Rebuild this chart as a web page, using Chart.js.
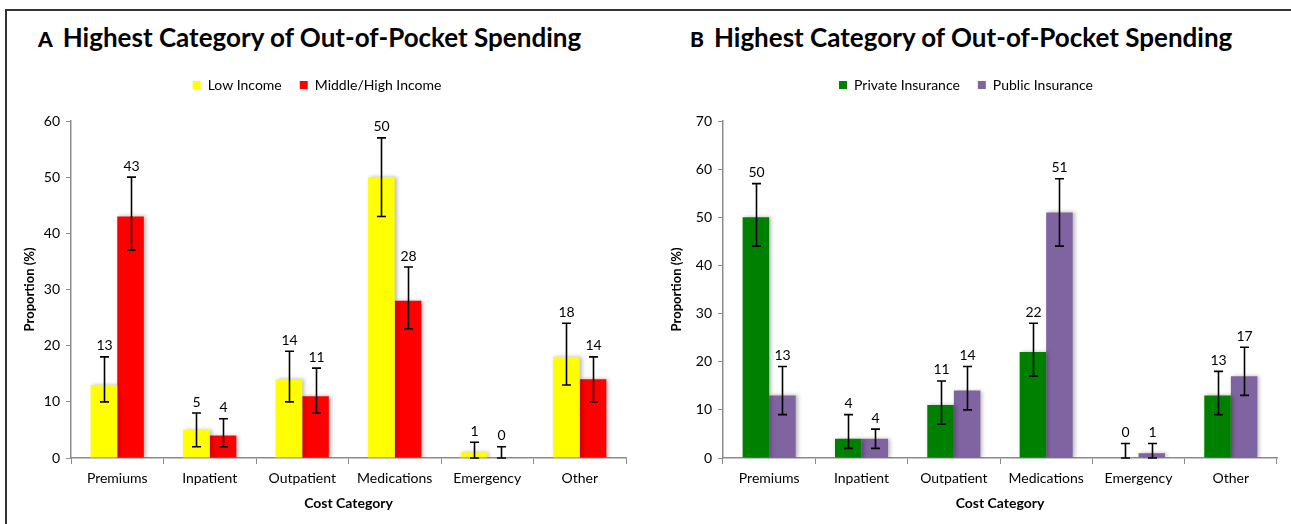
<!DOCTYPE html>
<html>
<head>
<meta charset="utf-8">
<script src="https://cdn.jsdelivr.net/npm/chart.js@4.4.1/dist/chart.umd.min.js"></script>
<style>
  html, body { margin: 0; padding: 0; background: #fff; }
  body { width: 1291px; height: 524px; position: relative; overflow: hidden; font-family: Lato, sans-serif; }
  .frame { position: absolute; left: 5px; top: 9px; width: 1300px; height: 600px;
           border-top: 2px solid #333; border-left: 2px solid #333; }
  .ttl { position: absolute; top: 21px; font-weight: bold; font-size: 26px; color: #000; white-space: nowrap; }
  .ttl b { margin-right: 10px; font-size: 21px; }
  .box { position: absolute; top: 60px; height: 464px; }
</style>
</head>
<body>
<div class="frame"></div>
<div class="ttl" style="left:38px"><b>A</b>Highest Category of Out-of-Pocket Spending</div>
<div class="ttl" style="left:690px"><b>B</b>Highest Category of Out-of-Pocket Spending</div>
<div class="box" style="left:8px;width:637px"><canvas id="chartA"></canvas></div>
<div class="box" style="left:655px;width:636px"><canvas id="chartB"></canvas></div>

<script>
// Dados
var categories = ['Premiums', 'Inpatient', 'Outpatient', 'Medications', 'Emergency', 'Other'];

var lowIncome    = [13, 5, 14, 50, 1, 18]
    , lowIncomeLo  = [10, 2, 10, 43, 0, 13]
    , lowIncomeHi  = [18, 8, 19, 57, 2.8, 24]
    , midIncome    = [43, 4, 11, 28, 0, 14]
    , midIncomeLo  = [37, 2, 8, 23, 0, 10]
    , midIncomeHi  = [50, 7, 16, 34, 2, 18]
    ;

var privateIns   = [50, 4, 11, 22, 0, 13]
    , privateLo    = [44, 2, 7, 17, 0, 9]
    , privateHi    = [57, 9, 16, 28, 3, 18]
    , publicIns    = [13, 4, 14, 51, 1, 17]
    , publicLo     = [9, 2, 10, 44, 0, 13]
    , publicHi     = [19, 6, 19, 58, 3, 23]
    ;

var ticksA = [0, 10, 20, 30, 40, 50, 60]
    , ticksB = [0, 10, 20, 30, 40, 50, 60, 70]
    ;

var FONT = 'Lato';
var AXIS = '#8c8c8c';

// sombra leve nas barras
var shadowPlugin = {
    id: 'barShadow',
    beforeDatasetDraw: function(chart){
        var c = chart.ctx;
        c.save();
        c.shadowColor = 'rgba(0,0,0,0.28)';
        c.shadowBlur = 4;
        c.shadowOffsetX = 2;
        c.shadowOffsetY = 0;
    },
    afterDatasetDraw: function(chart){
        chart.ctx.restore();
    }
};

// barras de erro + rótulos de valor
var errorPlugin = {
    id: 'errorBars',
    afterDatasetsDraw: function(chart){
        var c = chart.ctx, y = chart.scales.y;
        chart.data.datasets.forEach(function(ds, i){
            var meta = chart.getDatasetMeta(i);
            meta.data.forEach(function(bar, j){
                var top = y.getPixelForValue(ds.errHi[j]);
                var bot = y.getPixelForValue(ds.errLo[j]);
                var x = Math.round(bar.x) + 0.5;
                c.save();
                c.strokeStyle = '#000';
                c.lineWidth = 1.6;
                c.beginPath();
                c.moveTo(x, top); c.lineTo(x, bot);
                c.moveTo(x - 4.5, top); c.lineTo(x + 4.5, top);
                c.moveTo(x - 4.5, bot); c.lineTo(x + 4.5, bot);
                c.stroke();
                c.fillStyle = '#000';
                c.font = '14px ' + FONT;
                c.textAlign = 'center';
                c.textBaseline = 'bottom';
                c.fillText(String(ds.data[j]), x, top - 4);
                c.restore();
            });
        });
    }
};

// espaço extra abaixo da legenda
function legendGap(px){
    return {
        id: 'legendGap',
        beforeInit: function(chart){
            var fit = chart.legend.fit;
            chart.legend.fit = function(){
                fit.bind(chart.legend)();
                this.height += px;
            };
        }
    };
}

function makeChart(id, sets, max, ticks, yWidth, padRight){
    return new Chart(document.getElementById(id), {
        type: 'bar',
        data: {
            labels: categories,
            datasets: sets.map(function(s){
                return {
                    label: s.label,
                    data: s.data,
                    errLo: s.lo,
                    errHi: s.hi,
                    backgroundColor: s.color,
                    borderWidth: 0,
                    barPercentage: 1,
                    categoryPercentage: 0.575
                };
            })
        },
        options: {
            responsive: true,
            maintainAspectRatio: false,
            animation: false,
            layout: { padding: { top: 0, right: padRight, bottom: 0, left: 0 } },
            plugins: {
                title: { display: false },
                tooltip: { enabled: false },
                legend: {
                    position: 'top',
                    labels: {
                        boxWidth: 8, boxHeight: 8, padding: 18,
                        color: '#000',
                        font: { family: FONT, size: 14 }
                    }
                }
            },
            scales: {
                x: {
                    grid: { display: true, offset: true, drawOnChartArea: false, tickLength: 6, color: AXIS },
                    border: { color: AXIS, width: 1.5 },
                    ticks: { color: '#000', padding: 6, font: { family: FONT, size: 14 }, maxRotation: 0 },
                    title: { display: true, text: 'Cost Category', color: '#000',
                             font: { family: FONT, size: 14, weight: 'bold' }, padding: { top: 4, bottom: 12 } },
                    afterFit: function(s){ s.height = 66; }
                },
                y: {
                    min: 0, max: max,
                    grid: { display: true, drawOnChartArea: false, tickLength: 5, color: AXIS },
                    border: { color: AXIS, width: 1.5 },
                    afterBuildTicks: function(s){ s.ticks = ticks.map(function(v){ return { value: v }; }); },
                    ticks: { color: '#000', padding: 6, font: { family: FONT, size: 14 } },
                    title: { display: true, text: 'Proportion (%)', color: '#000',
                             font: { family: FONT, size: 13, weight: 'bold' }, padding: { top: 14, bottom: 0 } },
                    afterFit: function(s){ s.width = yWidth; }
                }
            }
        },
        plugins: [shadowPlugin, errorPlugin, legendGap(19)]
    });
}

makeChart('chartA', [
    { label: 'Low Income',         data: lowIncome, lo: lowIncomeLo, hi: lowIncomeHi, color: '#FFFF00' },
    { label: 'Middle/High Income', data: midIncome, lo: midIncomeLo, hi: midIncomeHi, color: '#FF0000' }
], 60, ticksA, 63, 19);

makeChart('chartB', [
    { label: 'Private Insurance', data: privateIns, lo: privateLo, hi: privateHi, color: '#008000' },
    { label: 'Public Insurance',  data: publicIns,  lo: publicLo,  hi: publicHi,  color: '#8064A2' }
], 70, ticksB, 68, 14);
</script>
</body>
</html>
